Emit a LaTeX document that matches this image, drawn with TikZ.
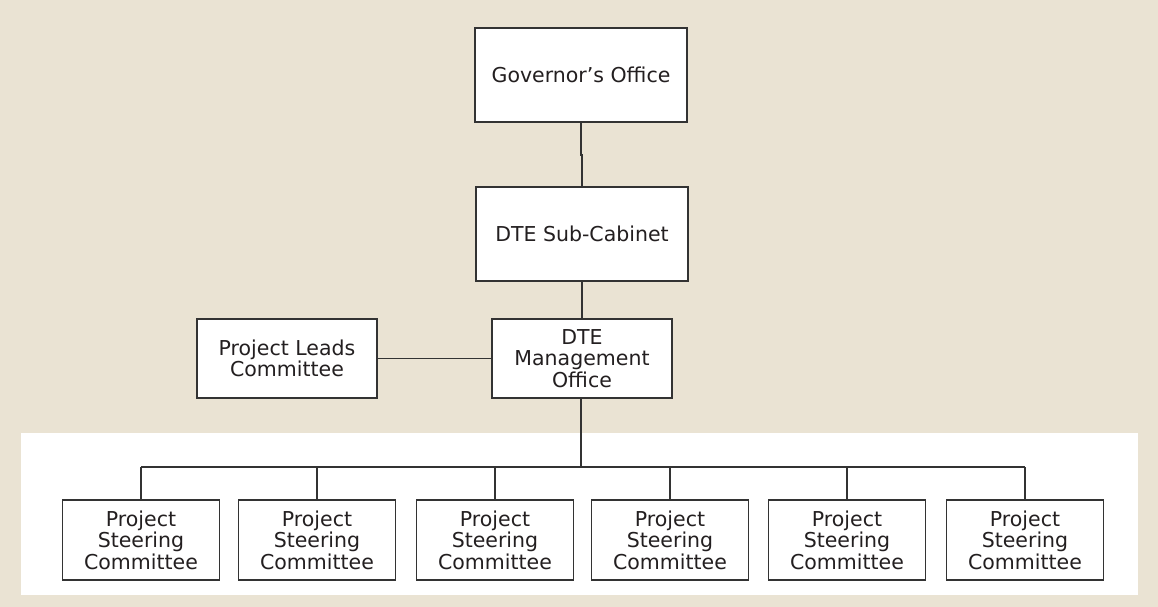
\documentclass[tikz,border=0pt]{standalone}
\usepackage{fontspec}
\setmainfont{DejaVu Sans}
\definecolor{beige}{RGB}{234,227,211}
\definecolor{linec}{RGB}{51,51,51}
\definecolor{textc}{RGB}{35,31,32}
\begin{document}
\begin{tikzpicture}[x=1pt,y=-1pt,
  box/.style={draw=linec,line width=1.8pt,fill=white,text=textc,align=center,
    inner sep=0pt,font=\fontsize{20.5}{21.5}\selectfont},
  conn/.style={draw=linec,line width=1.8pt}]
\fill[beige] (0,0) rectangle (1158,607);
\useasboundingbox (0,0) rectangle (1158,607);
\fill[white] (21,433) rectangle (1138,595);
\node[box,minimum width=212pt,minimum height=94pt] (gov) at (581,75) {Governor’s Office};
\node[box,minimum width=212pt,minimum height=94pt] (sub) at (582,234) {DTE Sub-Cabinet};
\node[box,minimum width=180pt,minimum height=79pt] (leads) at (287,358.5) {Project Leads\\Committee};
\node[box,minimum width=180pt,minimum height=79pt] (dte) at (582,358.5) {DTE\\Management\\Office};
\foreach \i/\cx in {1/141,2/317,3/495,4/670,5/847,6/1025}{
  \node[box,minimum width=157pt,minimum height=80pt] (p\i) at (\cx,540) {Project\\Steering\\Committee};
}
\coordinate (bus) at (581,467);
\coordinate (jog) at (581,155);
\draw[conn] (gov.south -| jog) -- (jog) -| (sub.north);
\draw[conn] (sub.south) -- (sub.south |- dte.north);
\draw[conn] (leads.east) -- (dte.west);
\draw[conn] (dte.south -| bus) -- (bus);
\draw[conn] (p1.north |- bus) -- (p6.north |- bus);
\foreach \i in {1,...,6}{
  \draw[conn] (p\i.north |- bus) -- (p\i.north);
}
\end{tikzpicture}
\end{document}
